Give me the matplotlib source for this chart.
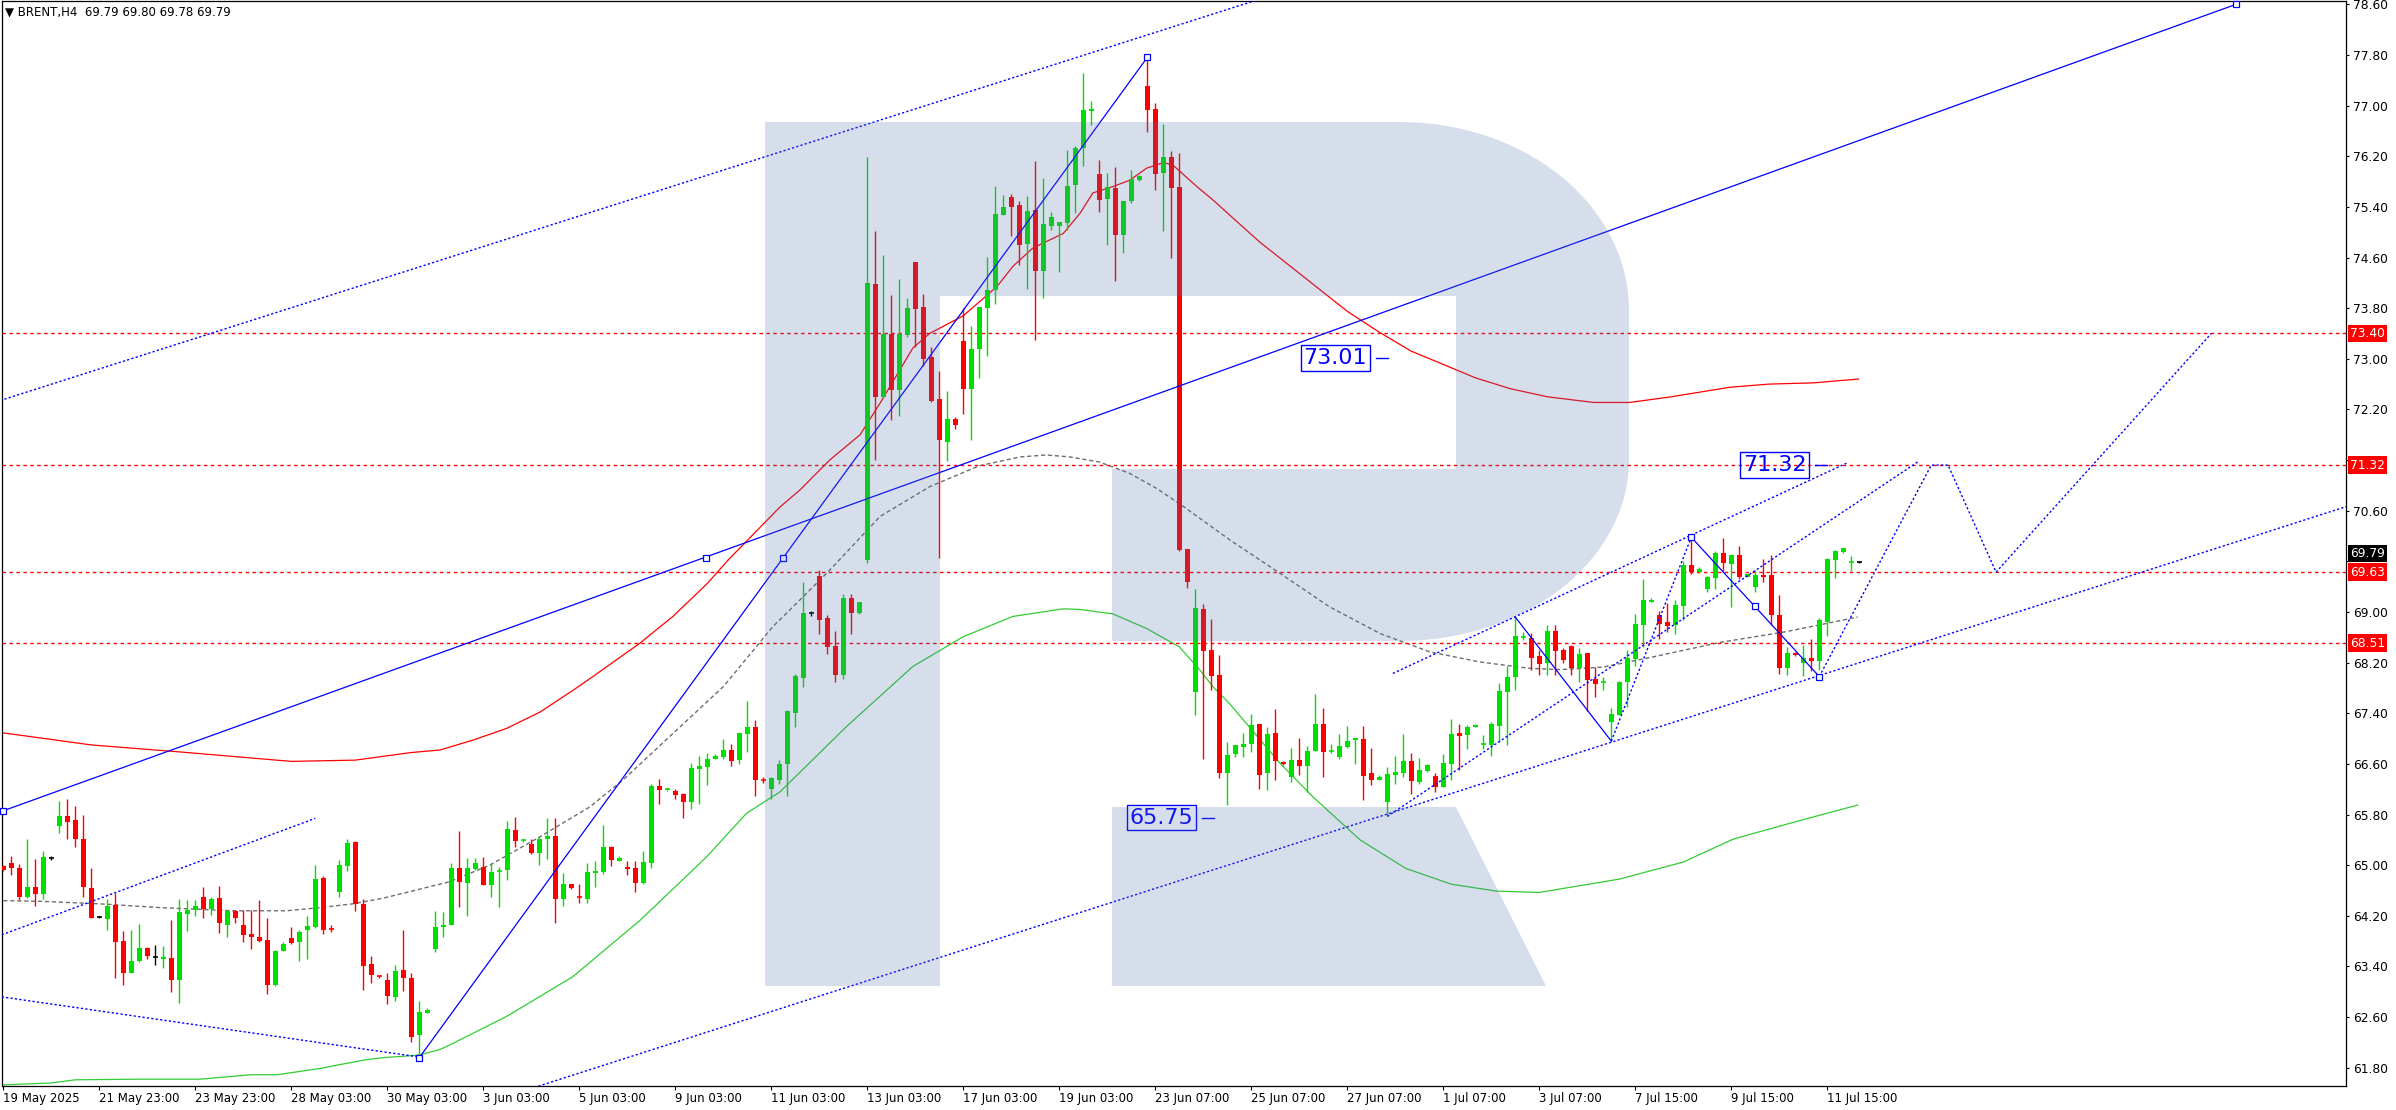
import numpy as np
import matplotlib
matplotlib.use('Agg')
import matplotlib.pyplot as plt
import matplotlib.transforms as mtransforms
from matplotlib.path import Path
from matplotlib.patches import PathPatch

# BRENT H4 bars, bar 0 = 19 May 2025
opens = [64.98, 65.04, 64.96, 64.50, 64.65, 64.55, 65.12, 65.62, 65.78, 65.71,
         65.41, 64.64, 64.18, 64.15, 64.37, 63.80, 63.30, 63.49, 63.69, 63.55,
         63.52, 63.53, 63.19, 64.23, 64.29, 64.50, 64.31, 64.48, 64.06, 64.28,
         64.06, 63.92, 63.87, 63.82, 63.10, 63.65, 63.85, 63.79, 63.97, 64.02,
         64.80, 64.00, 64.58, 64.99, 65.37, 64.39, 63.44, 63.26, 63.19, 62.92,
         63.35, 63.22, 62.31, 62.67, 63.68, 64.03, 64.06, 64.95, 64.72, 64.94,
         64.97, 64.69, 64.91, 64.93, 65.55, 65.39, 65.33, 65.20, 65.42, 65.46,
         64.47, 64.70, 64.51, 64.47, 64.88, 64.89, 65.29, 65.07, 64.97, 64.95,
         64.72, 65.04, 66.25, 66.19, 66.18, 66.12, 66.00, 66.52, 66.55, 66.67,
         66.71, 66.82, 66.66, 67.08, 67.18, 66.36, 66.20, 66.35, 66.60, 67.41,
         67.96, 68.98, 69.57, 68.90, 68.46, 68.00, 69.22, 68.99, 69.82, 74.18,
         72.40, 73.39, 72.50, 73.37, 74.53, 73.82, 73.03, 72.37, 71.69, 72.05,
         73.28, 72.52, 73.15, 73.80, 74.09, 75.27, 75.56, 75.43, 74.81, 75.35,
         74.39, 75.10, 75.10, 75.15, 75.75, 76.33, 76.91, 75.92, 75.52, 75.70,
         74.96, 75.49, 75.82, 77.31, 76.95, 75.93, 76.19, 75.71, 70.00, 67.74,
         69.05, 68.40, 68.00, 66.45, 66.75, 66.86, 66.92, 67.23, 66.45, 67.09,
         66.63, 66.40, 66.66, 66.57, 66.80, 67.23, 66.80, 66.71, 66.86, 66.98,
         66.99, 66.45, 66.35, 66.00, 66.43, 66.46, 66.64, 66.32, 66.49, 66.41,
         66.24, 66.60, 67.09, 67.05, 67.18, 66.91, 66.90, 67.20, 67.74, 67.98,
         68.60, 68.59, 68.30, 68.19, 68.70, 68.40, 68.46, 68.11, 68.35, 67.94,
         67.89, 67.26, 67.37, 67.89, 68.26, 68.79, 69.16, 68.95, 68.84, 68.80,
         69.09, 69.74, 69.63, 69.36, 69.54, 69.93, 69.76, 69.90, 69.55, 69.40,
         69.58, 69.58, 68.95, 68.11, 68.35, 68.19, 68.27, 68.23, 68.84, 69.82,
         69.95, 69.79, 69.79]
highs = [65.00, 65.15, 65.02, 65.41, 65.10, 65.22, 65.15, 66.01, 66.05, 65.94,
         65.79, 64.96, 64.20, 64.47, 64.56, 63.96, 63.98, 64.07, 63.70, 63.74,
         63.72, 64.13, 64.47, 64.45, 64.45, 64.66, 64.50, 64.67, 64.29, 64.29,
         64.29, 64.29, 64.45, 64.17, 63.66, 63.79, 64.02, 63.97, 64.20, 65.00,
         64.83, 64.06, 65.08, 65.41, 65.38, 64.47, 63.57, 63.27, 63.29, 63.42,
         63.98, 63.29, 62.86, 62.74, 64.28, 64.26, 65.03, 65.54, 65.11, 65.11,
         65.13, 65.03, 64.97, 65.70, 65.76, 65.41, 65.41, 65.46, 65.75, 65.75,
         64.88, 64.70, 64.70, 65.03, 65.07, 65.63, 65.31, 65.15, 65.07, 65.06,
         65.22, 66.28, 66.36, 66.22, 66.20, 66.14, 66.61, 66.72, 66.78, 66.75,
         66.99, 66.92, 67.09, 67.59, 67.29, 66.39, 66.39, 66.66, 67.45, 68.02,
         69.47, 69.02, 69.66, 68.95, 68.70, 69.28, 69.28, 69.15, 76.19, 75.02,
         74.64, 74.01, 74.26, 73.96, 74.53, 74.02, 73.19, 72.81, 72.49, 72.08,
         73.80, 73.52, 73.82, 74.61, 75.73, 75.59, 75.60, 75.49, 75.57, 76.12,
         75.86, 75.32, 75.16, 76.30, 76.36, 77.52, 77.07, 76.14, 75.93, 76.03,
         75.49, 75.98, 75.90, 77.76, 77.04, 76.71, 76.28, 76.25, 70.00, 69.36,
         69.13, 68.89, 68.32, 66.95, 66.90, 67.09, 67.39, 67.23, 67.18, 67.47,
         66.65, 66.85, 67.01, 66.88, 67.70, 67.48, 66.91, 67.07, 67.20, 67.01,
         67.20, 66.85, 66.42, 66.55, 66.73, 67.07, 66.78, 66.70, 66.60, 66.46,
         66.76, 67.31, 67.23, 67.21, 67.23, 67.06, 67.26, 67.88, 68.15, 68.92,
         68.68, 68.67, 68.40, 68.79, 68.79, 68.43, 68.48, 68.43, 68.35, 68.13,
         67.97, 67.48, 67.91, 68.40, 68.97, 69.52, 69.22, 69.02, 69.14, 69.19,
         69.81, 70.18, 69.71, 69.57, 69.96, 70.17, 69.92, 70.04, 69.60, 69.66,
         69.84, 69.90, 69.27, 68.45, 68.37, 68.48, 68.57, 68.90, 69.85, 69.98,
         70.01, 69.88, 69.80]
lows = [64.91, 64.84, 64.45, 64.48, 64.36, 64.47, 65.08, 65.51, 65.41, 65.28,
        64.50, 64.16, 64.17, 63.98, 63.22, 63.11, 63.29, 63.47, 63.52, 63.42,
        63.37, 63.00, 62.82, 63.96, 64.20, 64.16, 64.21, 63.93, 63.87, 64.09,
        63.79, 63.67, 63.79, 62.96, 63.09, 63.64, 63.75, 63.49, 63.52, 64.01,
        63.92, 63.95, 64.50, 64.91, 64.27, 63.03, 63.14, 63.22, 62.81, 62.86,
        63.02, 62.21, 61.98, 62.67, 63.63, 63.87, 64.05, 64.34, 64.20, 64.93,
        64.69, 64.49, 64.34, 64.77, 65.28, 65.37, 65.17, 65.01, 65.10, 64.08,
        64.36, 64.62, 64.41, 64.41, 64.66, 64.86, 64.99, 65.07, 64.85, 64.58,
        64.70, 64.95, 65.96, 66.18, 66.04, 65.75, 65.89, 65.97, 66.26, 66.67,
        66.68, 66.56, 66.60, 66.79, 66.10, 66.30, 66.05, 66.28, 66.09, 67.18,
        67.82, 68.94, 68.65, 68.34, 67.90, 67.94, 68.66, 68.97, 69.78, 71.40,
        72.38, 72.03, 72.10, 73.35, 73.19, 72.88, 72.32, 69.85, 71.39, 71.89,
        72.13, 71.72, 72.70, 73.05, 73.87, 75.27, 74.94, 74.48, 74.10, 73.30,
        73.96, 75.04, 74.37, 75.04, 75.30, 76.04, 76.69, 75.32, 74.80, 74.23,
        74.67, 75.46, 75.81, 76.58, 75.67, 75.02, 74.59, 69.96, 69.38, 67.37,
        66.68, 67.76, 66.38, 65.95, 66.71, 66.71, 66.79, 66.21, 66.19, 66.35,
        66.59, 66.32, 66.43, 66.16, 66.80, 66.40, 66.77, 66.67, 66.85, 66.60,
        66.03, 66.26, 66.34, 65.77, 66.29, 66.40, 66.13, 66.29, 66.48, 66.16,
        66.23, 66.35, 66.51, 66.84, 67.18, 66.84, 66.73, 66.95, 66.90, 67.77,
        68.56, 68.08, 68.00, 68.00, 68.00, 68.19, 68.00, 67.89, 67.44, 67.66,
        67.77, 66.98, 67.37, 67.50, 68.15, 68.45, 69.16, 68.57, 68.68, 68.65,
        68.87, 69.60, 69.62, 69.32, 69.36, 69.65, 69.08, 69.52, 69.55, 69.32,
        69.47, 68.79, 68.02, 68.00, 68.30, 67.99, 68.07, 68.08, 68.62, 69.54,
        69.93, 69.65, 69.78]
closes = [64.93, 64.95, 64.49, 64.65, 64.55, 65.13, 65.12, 65.78, 65.69, 65.41,
          64.65, 64.17, 64.18, 64.36, 63.78, 63.30, 63.49, 63.69, 63.56, 63.55,
          63.55, 63.18, 64.26, 64.29, 64.36, 64.31, 64.47, 64.08, 64.28, 64.16,
          63.90, 63.86, 63.80, 63.11, 63.65, 63.76, 63.77, 63.94, 64.04, 64.78,
          63.98, 63.99, 65.00, 65.35, 64.39, 63.41, 63.26, 63.24, 62.94, 63.33,
          63.22, 62.29, 62.68, 62.71, 64.02, 64.06, 64.95, 64.74, 64.95, 65.04,
          64.69, 64.89, 64.92, 65.57, 65.39, 65.41, 65.20, 65.42, 65.46, 64.47,
          64.70, 64.64, 64.49, 64.89, 64.91, 65.29, 65.09, 65.11, 64.94, 64.72,
          65.05, 66.25, 66.19, 66.21, 66.11, 66.00, 66.53, 66.57, 66.68, 66.72,
          66.82, 66.65, 67.09, 67.18, 66.35, 66.34, 66.37, 66.60, 67.44, 67.99,
          68.98, 68.98, 68.88, 68.44, 68.01, 69.22, 68.99, 69.15, 74.20, 72.40,
          73.39, 72.50, 73.39, 73.80, 73.79, 73.00, 72.34, 71.72, 72.05, 71.96,
          72.53, 73.15, 73.82, 74.09, 75.29, 75.40, 75.40, 74.80, 75.34, 74.39,
          75.13, 75.24, 75.16, 75.73, 76.33, 76.93, 76.95, 75.51, 75.71, 74.96,
          75.49, 75.84, 75.89, 76.93, 75.92, 76.19, 75.70, 69.98, 69.48, 69.06,
          68.39, 67.99, 66.45, 66.74, 66.90, 66.91, 67.21, 66.43, 67.07, 66.64,
          66.60, 66.66, 66.57, 66.80, 67.23, 66.79, 66.82, 66.88, 66.96, 67.01,
          66.41, 66.35, 66.40, 66.44, 66.48, 66.64, 66.33, 66.51, 66.59, 66.23,
          66.62, 67.07, 67.04, 67.18, 67.21, 66.92, 67.23, 67.75, 67.97, 68.62,
          68.62, 68.27, 68.18, 68.70, 68.38, 68.24, 68.11, 68.34, 67.93, 67.86,
          67.91, 67.39, 67.89, 68.27, 68.81, 69.19, 69.19, 68.81, 68.78, 69.11,
          69.74, 69.63, 69.68, 69.55, 69.93, 69.77, 69.90, 69.55, 69.60, 69.58,
          69.55, 68.95, 68.11, 68.35, 68.32, 68.27, 68.23, 68.87, 69.84, 69.96,
          70.01, 69.80, 69.79]

# moving averages (bar index, price)
ma_red_x = [0, 11, 22, 36, 44, 51, 54.6, 58.8, 62.9, 67.1, 71.3, 73.7, 79.6, 83.7, 88, 90.6,
            97.1, 99.6, 103.3, 107.1, 109.6, 113.7, 115.8, 120, 124.2, 126.2, 128.7, 132.5,
            134.6, 136.2, 138.7, 140.8, 142.9, 145, 146.2, 149.2, 151.2, 153.3, 157, 161, 165,
            168, 172, 176, 180.2, 184, 188.3, 193, 198.8, 203.3, 208.5, 215.8, 220.7, 226.3, 231.9]
ma_red_y = [67.09, 66.90, 66.79, 66.64, 66.66, 66.78, 66.82, 66.98, 67.16, 67.42, 67.77, 67.98,
            68.51, 68.93, 69.45, 69.82, 70.66, 70.93, 71.40, 71.80, 72.30, 73.17, 73.40, 73.68,
            74.14, 74.46, 74.75, 74.98, 75.30, 75.62, 75.72, 75.82, 76.01, 76.10, 76.06, 75.72,
            75.51, 75.27, 74.85, 74.45, 74.05, 73.75, 73.42, 73.12, 72.90, 72.70, 72.53, 72.40,
            72.31, 72.31, 72.40, 72.55, 72.60, 72.62, 72.68]
ma_green_x = [0, 6, 9, 17, 24.6, 31, 34.2, 39.7, 41.2, 45.5, 47.5, 52, 54.6, 55.8, 62.9, 71.2,
              79.6, 87.9, 92.9, 97.1, 105.4, 113.7, 120, 126.2, 132.5, 134.6, 138.7, 142.9, 147,
              149.6, 151.2, 153.3, 159.6, 163.7, 169.6, 175.3, 181, 186.7, 192, 202, 210, 216.2,
              219, 225, 231.8]
ma_green_y = [61.53, 61.56, 61.61, 61.62, 61.62, 61.69, 61.69, 61.79, 61.83, 61.93, 61.96, 62.00,
              62.09, 62.16, 62.61, 63.24, 64.13, 65.13, 65.82, 66.16, 67.19, 68.14, 68.61, 68.93,
              69.05, 69.04, 68.97, 68.74, 68.45, 68.08, 67.82, 67.55, 66.61, 66.08, 65.40, 64.95,
              64.70, 64.59, 64.57, 64.78, 65.05, 65.41, 65.51, 65.72, 65.95]
ma_gray_x = [0, 4.6, 12, 19.6, 28.7, 35.4, 39.6, 43.7, 47.5, 51.7, 55.8, 60.8, 67.1, 73.3, 77.5,
             83.7, 90, 96.2, 98.3, 103.3, 109.6, 115.8, 122, 127.1, 130.4, 133.3, 137, 140.8,
             144.2, 147.7, 153.3, 159.6, 165.8, 172.1, 178.3, 184.6, 190.8, 194.6, 200, 206.2,
             214.6, 222.9, 231.8]
ma_gray_y = [64.44, 64.43, 64.39, 64.33, 64.28, 64.28, 64.33, 64.39, 64.48, 64.61, 64.74, 65.00,
             65.45, 65.92, 66.35, 67.08, 67.82, 68.77, 69.03, 69.66, 70.51, 70.98, 71.31, 71.45,
             71.48, 71.45, 71.37, 71.19, 70.95, 70.65, 70.14, 69.61, 69.08, 68.66, 68.37, 68.21,
             68.11, 68.09, 68.13, 68.29, 68.52, 68.69, 68.92]

# horizontal levels and the forecast drawing
levels = [73.40, 71.32, 69.63, 68.51]
last_price = 69.79
trend_long = [(0, 65.86), (279.1, 78.60)]
channel_top = [(-0.4, 72.34), (160.0, 78.80)]
channel_bottom = [(60.0, 61.23), (293.0, 70.67)]
left_up = [(-0.2, 63.90), (39.0, 65.74)]
left_down = [(-0.2, 62.92), (52.0, 61.97)]
wave_up = [(52.0, 61.96), (143.0, 77.76)]
mini_top = [(173.7, 68.03), (230.4, 71.35)]
mini_steep = [(173.0, 65.77), (239.3, 71.37)]
swing_solid_a = [(189.0, 68.92), (201.0, 66.96)]
swing_dotted = [(201.0, 66.96), (211.0, 70.18)]
swing_solid_b = [(211.0, 70.18), (227.0, 67.98)]
forecast = [(227.0, 67.98), (241.0, 71.32), (243.1, 71.32), (249.1, 69.63), (276.0, 73.40)]
anchors = [(0, 65.86), (87.8, 69.86), (97.5, 69.86), (52.0, 61.96), (143.0, 77.76),
           (279.1, 78.60), (211.0, 70.18), (219.0, 69.09), (227.0, 67.98)]
tags = [('73.01', 166.5, 73.01), ('65.75', 144.8, 65.75), ('71.32', 221.4, 71.32)]

tick_bars = list(range(0, 229, 12))
tick_text = ['19 May 2025', '21 May 23:00', '23 May 23:00', '28 May 03:00', '30 May 03:00',
             '3 Jun 03:00', '5 Jun 03:00', '9 Jun 03:00', '11 Jun 03:00', '13 Jun 03:00',
             '17 Jun 03:00', '19 Jun 03:00', '23 Jun 07:00', '25 Jun 07:00', '27 Jun 07:00',
             '1 Jul 07:00', '3 Jul 07:00', '7 Jul 15:00', '9 Jul 15:00', '11 Jul 15:00']

W, H = 2396, 1110
fig = plt.figure(figsize=(W / 100, H / 100), dpi=100)
fig.patch.set_facecolor('white')
ax = fig.add_axes([2 / W, 1 - 1086 / H, 2344 / W, 1085 / H])
ax.set_xlim(-0.1625, 292.84)
ax.set_ylim(61.512, 78.652)

bull, bear = '#00e000', '#ff0000'
o, h, l, c = map(np.array, (opens, highs, lows, closes))
idx = np.arange(len(o))
col = np.where(c > o, bull, np.where(c < o, bear, 'black'))
ax.vlines(idx, l, h, colors=col, lw=1.0, zorder=3)
big = np.abs(c - o) >= 0.025
ax.bar(idx[big], np.abs(c - o)[big], bottom=np.minimum(o, c)[big], width=0.6,
       color=col[big], lw=0, zorder=4)
ax.hlines(((o + c) / 2)[~big], idx[~big] - 0.32, idx[~big] + 0.32, colors=col[~big], lw=1.2, zorder=4)

ax.plot(ma_red_x, ma_red_y, color='#ff0000', lw=0.9, zorder=2)
ax.plot(ma_green_x, ma_green_y, color='#32cd32', lw=0.9, zorder=2)
ax.plot(ma_gray_x, ma_gray_y, color='#6e6e6e', lw=1.0, dashes=(3, 2), zorder=2)

for v in levels:
    ax.axhline(v, color='#ff0000', lw=1.0, dashes=(2.5, 2.5), zorder=2)

blue = '#0000ff'
for seg in (trend_long, wave_up, swing_solid_a, swing_solid_b):
    xs, ys = zip(*seg)
    ax.plot(xs, ys, color=blue, lw=0.9, zorder=5)
for seg in (channel_top, channel_bottom, left_up, left_down, mini_top, mini_steep,
            swing_dotted, forecast):
    xs, ys = zip(*seg)
    ax.plot(xs, ys, color=blue, lw=1.0, dashes=(1.6, 1.6), zorder=5)
ax_, ay_ = zip(*anchors)
ax.plot(ax_, ay_, ls='none', marker='s', ms=4.5, mfc='white', mec=blue, mew=0.9, zorder=6,
        clip_on=False)

for txt, bx, by in tags:
    ax.text(bx, by, txt, color=blue, fontsize=16, ha='center', va='center', zorder=12,
            bbox=dict(boxstyle='square,pad=0.12', fc='none', ec=blue, lw=1.0))
    ax.plot([bx + 5.1, bx + 6.6], [by, by], color=blue, lw=1.0, zorder=12)

# watermark "R" (pixel coordinates, top-left origin)
px = mtransforms.Affine2D().scale(1 / W, -1 / H).translate(0, 1) + fig.transFigure
t1 = np.linspace(np.pi / 2, 0, 30)
t2 = np.linspace(0, -np.pi / 2, 30)
bowl = [(940, 122), (1400, 122)]
bowl += [(1400 + 229 * np.cos(t), 310 - 188 * np.sin(t)) for t in t1]
bowl += [(1400 + 229 * np.cos(t), 460 - 181 * np.sin(t)) for t in t2]
bowl += [(1112, 641), (1112, 469), (1456, 469), (1456, 296), (940, 296)]
stem = [(765, 122), (940, 122), (940, 986), (765, 986)]
leg = [(1112, 807), (1456, 807), (1546, 986), (1112, 986)]
verts, codes = [], []
for poly in (stem, bowl, leg):
    verts += poly + [poly[0]]
    codes += [Path.MOVETO] + [Path.LINETO] * (len(poly) - 1) + [Path.CLOSEPOLY]
fig.patches.append(PathPatch(Path(verts, codes), transform=px, fc=(80 / 255, 112 / 255, 170 / 255),
                             alpha=0.23, ec='none', zorder=10))

# axes styling
for s in ax.spines.values():
    s.set_color('black')
    s.set_linewidth(0.9)
ax.yaxis.tick_right()
yt = np.round(61.8 + 0.8 * np.arange(22), 2)
ax.set_yticks(yt)
# 69.80 sits fully under the price boxes, as in the terminal
ax.set_yticklabels(['' if abs(v - 69.8) < 0.01 else '%.2f' % v for v in yt])
ax.tick_params(axis='y', which='both', direction='out', length=2.5, pad=2.5, labelsize=8.8,
               colors='black')
ax.set_xticks(tick_bars)
ax.set_xticklabels(tick_text)
for lab in ax.get_xticklabels():
    lab.set_ha('left')
ax.tick_params(axis='x', direction='out', length=3, pad=1, labelsize=8.5, colors='black')

ytr = mtransforms.blended_transform_factory(ax.transAxes, ax.transData)
for v in levels:
    ax.text(1.0017, v, '%.2f' % v, transform=ytr, color='white', fontsize=8.8, va='center',
            ha='left', zorder=20, clip_on=False,
            bbox=dict(boxstyle='square,pad=0.18', fc='#ff0000', ec='none'))
ax.text(1.0017, last_price + 0.13, '%.2f' % last_price, transform=ytr, color='white', fontsize=8.8,
        va='center', ha='left', zorder=19, clip_on=False,
        bbox=dict(boxstyle='square,pad=0.18', fc='black', ec='none'))

fig.text(5 / W, 1 - 12 / H, '\u25bc BRENT,H4  69.79 69.80 69.78 69.79', fontsize=8.5,
         color='black', va='center', ha='left')

fig.savefig('out.png', dpi=100, facecolor='white')
